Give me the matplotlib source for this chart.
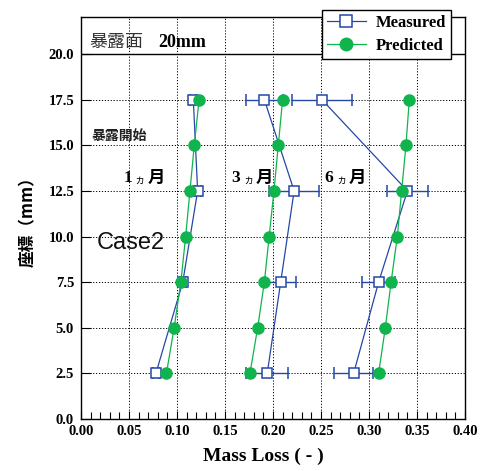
import numpy as np
import matplotlib
matplotlib.use("Agg")
import matplotlib.pyplot as plt
from matplotlib.ticker import MultipleLocator
from matplotlib.lines import Line2D

# ---- data ----
depth_meas = [17.5, 12.5, 7.5, 2.5]
depth_pred = [17.5, 15.0, 12.5, 10.0, 7.5, 5.0, 2.5]

m1_meas = [0.117, 0.1215, 0.106, 0.078]
m1_err = [0.003, 0.003, 0.003, 0.003]
m1_pred = [0.123, 0.118, 0.1135, 0.109, 0.104, 0.097, 0.089]

m3_meas = [0.191, 0.222, 0.208, 0.194]
m3_err = [0.019, 0.026, 0.016, 0.022]
m3_pred = [0.210, 0.2055, 0.201, 0.196, 0.191, 0.184, 0.176]

m6_meas = [0.251, 0.340, 0.310, 0.284]
m6_err = [0.031, 0.021, 0.017, 0.020]
m6_pred = [0.342, 0.3385, 0.334, 0.3295, 0.323, 0.317, 0.310]

month_labels = ["1", "3", "6"]
xticks = [0.00, 0.05, 0.10, 0.15, 0.20, 0.25, 0.30, 0.35, 0.40]
yticks = [0.0, 2.5, 5.0, 7.5, 10.0, 12.5, 15.0, 17.5, 20.0]

blue = "#2548a6"
green = "#10b44c"
serif = "Liberation Serif"
cjk = ["Noto Sans CJK JP", "DejaVu Sans"]

fig = plt.figure(figsize=(4.86, 4.71), dpi=100)
ax = fig.add_axes([81/486, 1-419/471, (465-81)/486, (419-17)/471])

ax.set_xlim(0, 0.40)
ax.set_ylim(0, 22.03)

for meas, err, pred in [(m1_meas, m1_err, m1_pred), (m3_meas, m3_err, m3_pred), (m6_meas, m6_err, m6_pred)]:
    ax.errorbar(meas, depth_meas, xerr=err, color=blue, lw=0.9, marker="s",
                mfc="white", mec=blue, mew=1.1, ms=7, capsize=4, capthick=1.0,
                elinewidth=1.0, zorder=3)
    ax.plot(pred, depth_pred, color=green, lw=0.9, marker="o", ms=8,
            mfc=green, mec=green, zorder=4)

# grid
for x in xticks[1:-1]:
    ax.axvline(x, color="black", ls=(0, (1.2, 1.8)), lw=0.7, zorder=1)
for y in yticks[1:-1]:
    ax.axhline(y, color="black", ls=(0, (1.2, 1.8)), lw=0.7, zorder=1)
ax.axhline(20.0, color="black", lw=1.0, zorder=2)

ax.set_xticks(xticks)
ax.set_yticks(yticks)
ax.xaxis.set_minor_locator(MultipleLocator(0.01))
ax.tick_params(axis="x", which="major", direction="in", length=6, width=0.8, top=False)
ax.tick_params(axis="x", which="minor", direction="in", length=5, width=0.8, top=False)
ax.tick_params(axis="y", which="major", direction="in", length=7, width=0.8, right=False)
ax.set_xticklabels([f"{v:.2f}" for v in xticks], fontfamily=serif, fontweight="bold", fontsize=10.5)
ax.set_yticklabels([f"{v:.1f}" for v in yticks], fontfamily=serif, fontweight="bold", fontsize=10.5)
ax.tick_params(axis="x", pad=4)
ax.tick_params(axis="y", pad=5)
for s in ax.spines.values():
    s.set_linewidth(1.0)

ax.set_xlabel("Mass Loss ( - )", fontfamily=serif, fontweight="bold", fontsize=14)
ax.xaxis.set_label_coords((263-81)/384, -0.072)
ax.set_ylabel("座標（mm）", family=["Noto Sans CJK JP", "DejaVu Sans"], fontweight="bold", fontsize=12, labelpad=8)

# annotations
ax.text(0.0083, 20.65, "暴露面", family=cjk, fontsize=13, va="center", ha="left", color="#333333")
ax.text(0.080, 20.65, "20mm", family=serif, fontweight="bold", fontsize=13, va="center", ha="left")
ax.text(0.011, 15.45, "暴露開始", family=cjk, fontsize=10, va="center", ha="left", fontweight="bold", color="#222222")
for xpos, m in zip([0.044, 0.157, 0.254], month_labels):
    ax.text(xpos, 13.2, m, family=serif, fontweight="bold", fontsize=12.5, va="center", ha="left")
    ax.text(xpos + 0.012, 13.1, "ヵ", family=cjk, fontsize=7.5, va="center", ha="left")
    ax.text(xpos + 0.025, 13.2, "月", family=cjk, fontsize=12.5, fontweight="bold", va="center", ha="left")
ax.text(0.0167, 9.64, "Case2", family="Liberation Sans", fontsize=17, va="center", ha="left", color="#111111")

# legend
h1 = Line2D([], [], color=blue, lw=0.9, marker="s", mfc="white", mec=blue, mew=1.1, ms=8)
h2 = Line2D([], [], color=green, lw=0.9, marker="o", mfc=green, mec=green, ms=9)
leg = fig.legend([h1, h2], ["Measured", "Predicted"], loc="upper right",
                 bbox_to_anchor=(451/486, 1-10/471), frameon=True, fancybox=False,
                 edgecolor="black", framealpha=1, handlelength=2.3, handletextpad=0.6,
                 borderpad=0.3, labelspacing=0.4, borderaxespad=0,
                 prop={"family": serif, "weight": "bold", "size": 12})
leg.get_frame().set_linewidth(1.0)
leg.set_zorder(10)

fig.savefig("out.png", dpi=100)
